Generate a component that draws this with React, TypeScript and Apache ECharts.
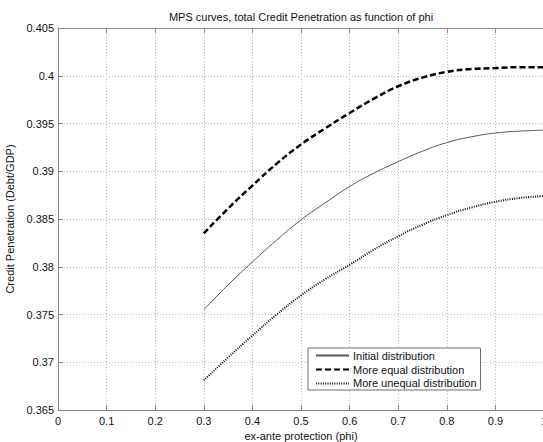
import React, { useEffect, useRef } from "react";
import * as echarts from "echarts";

const TITLE = "MPS curves, total Credit Penetration as function of phi";
const X_NAME = "ex-ante protection (phi)";
const Y_NAME = "Credit Penetration (Debt/GDP)";

const phi = [0.3, 0.35, 0.4, 0.45, 0.5, 0.55, 0.6, 0.65, 0.7, 0.75, 0.8, 0.85, 0.9, 0.95, 1.0];
const initialDist = [0.3755, 0.3781, 0.3805, 0.3828, 0.3849, 0.3867, 0.3884, 0.3898, 0.391, 0.3921, 0.393, 0.3936, 0.394, 0.3942, 0.3943];
const equalDist = [0.3835, 0.3861, 0.3885, 0.3908, 0.3928, 0.3945, 0.3961, 0.3976, 0.3989, 0.3998, 0.4004, 0.4007, 0.4008, 0.4009, 0.4009];
const unequalDist = [0.3681, 0.3705, 0.3728, 0.375, 0.377, 0.3787, 0.3802, 0.3818, 0.3832, 0.3844, 0.3854, 0.3862, 0.3868, 0.3872, 0.3874];
const seriesNames = ["Initial distribution", "More equal distribution", "More unequal distribution"];

const FONT = "'Liberation Sans', Arial, Helvetica, sans-serif";

export default function App() {
  const ref = useRef<HTMLDivElement>(null);
  useEffect(() => {
    document.body.style.margin = "0";
    if (!ref.current) return;
    const chart = echarts.init(ref.current, undefined, { renderer: "svg" });
    const pairs = (ys: number[]) => phi.map((x, i) => [x, ys[i]]);
    const axisLineStyle = { color: "#8a8a8a", width: 1 };
    chart.setOption({
      animation: false,
      backgroundColor: "#ffffff",
      textStyle: { fontFamily: FONT },
      grid: {
        left: 58,
        top: 28,
        width: 486,
        height: 382,
        containLabel: false,
        outerBoundsMode: "none",
      },
      graphic: [
        {
          type: "text",
          x: 301,
          y: 17,
          style: {
            text: TITLE,
            fontFamily: FONT,
            fontSize: 11,
            fill: "#111",
            textAlign: "center",
            textVerticalAlign: "middle",
          },
        },
      ],
      legend: {
        orient: "vertical",
        left: 308,
        top: 348,
        padding: [2, 4, 1, 7],
        itemWidth: 33,
        itemHeight: 14,
        itemGap: 2.7,
        backgroundColor: "#ffffff",
        borderColor: "#6e6e6e",
        borderWidth: 1,
        borderRadius: 0,
        itemStyle: { opacity: 0 },
        textStyle: { fontSize: 11, color: "#111", fontFamily: FONT, padding: [0, 0, 0, -1] },
        data: seriesNames,
      },
      xAxis: [
        {
          type: "value",
          min: 0,
          max: 1,
          interval: 0.1,
          position: "bottom",
          name: X_NAME,
          nameLocation: "middle",
          nameGap: 18,
          nameTextStyle: { fontSize: 11, color: "#111", fontFamily: FONT },
          axisLine: { show: true, lineStyle: axisLineStyle },
          axisTick: { show: true, inside: true, length: 5, lineStyle: axisLineStyle },
          axisLabel: { fontSize: 11, color: "#111", margin: 5, fontFamily: FONT, showMaxLabel: true },
          splitLine: { show: true, lineStyle: { color: "#bdbdbd", type: [1, 2], width: 1 } },
        },
        {
          type: "value",
          min: 0,
          max: 1,
          interval: 0.1,
          position: "top",
          axisLine: { show: true, lineStyle: axisLineStyle },
          axisTick: { show: true, inside: true, length: 5, lineStyle: axisLineStyle },
          axisLabel: { show: false },
          splitLine: { show: false },
        },
      ],
      yAxis: {
        type: "value",
        min: 0.365,
        max: 0.405,
        interval: 0.005,
        name: Y_NAME,
        nameLocation: "middle",
        nameGap: 37,
        nameTextStyle: { fontSize: 11, color: "#111", fontFamily: FONT },
        axisLine: { show: true, lineStyle: axisLineStyle },
        axisTick: { show: true, inside: true, length: 5, lineStyle: axisLineStyle },
        axisLabel: {
          fontSize: 11,
          color: "#111",
          margin: 4,
          fontFamily: FONT,
          formatter: (v: number) => String(parseFloat(v.toFixed(3))),
        },
        splitLine: { show: true, lineStyle: { color: "#bdbdbd", type: [1, 2], width: 1 } },
      },
      series: [
        {
          name: seriesNames[0],
          type: "line",
          data: pairs(initialDist),
          smooth: true,
          showSymbol: false,
          symbol: "none",
          color: "#555555",
          lineStyle: { color: "#555555", width: 1, type: "solid" },
          z: 3,
        },
        {
          name: seriesNames[1],
          type: "line",
          data: pairs(equalDist),
          smooth: true,
          showSymbol: false,
          symbol: "none",
          color: "#000000",
          lineStyle: { color: "#000000", width: 2.5, type: [6, 3] },
          z: 3,
        },
        {
          name: seriesNames[2],
          type: "line",
          data: pairs(unequalDist),
          smooth: true,
          showSymbol: false,
          symbol: "none",
          color: "#000000",
          lineStyle: { color: "#111111", width: 2, type: [1, 1.3] },
          z: 3,
        },
      ],
    });
    return () => chart.dispose();
  }, []);
  return (
    <div
      ref={ref}
      style={{ position: "absolute", left: 0, top: 0, width: 543, height: 442 }}
    />
  );
}
